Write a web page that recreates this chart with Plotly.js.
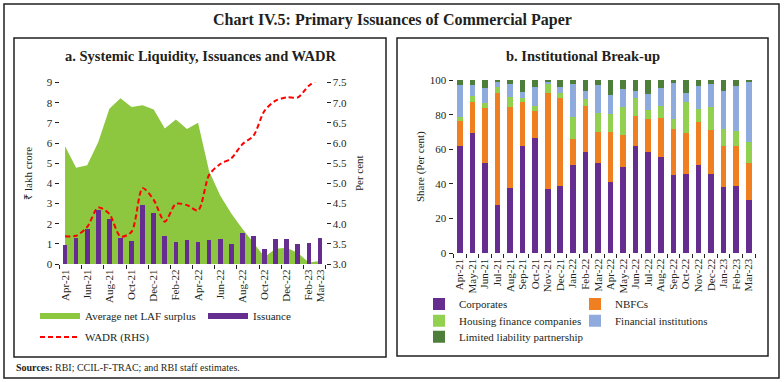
<!DOCTYPE html>
<html><head><meta charset="utf-8">
<script src="https://cdn.plot.ly/plotly-3.0.1.min.js"></script>
<style>html,body{margin:0;padding:0;background:#fff;}#chart{width:784px;height:382px;}</style>
</head><body><div id="chart"></div>
<script>
// ---- Data ----
const months = ["Apr-21","May-21","Jun-21","Jul-21","Aug-21","Sep-21","Oct-21","Nov-21","Dec-21","Jan-22","Feb-22","Mar-22",
                "Apr-22","May-22","Jun-22","Jul-22","Aug-22","Sep-22","Oct-22","Nov-22","Dec-22","Jan-23","Feb-23","Mar-23"];
const panelATickLabels = ["Apr-21","Jun-21","Aug-21","Oct-21","Dec-21","Feb-22","Apr-22","Jun-22","Aug-22","Oct-22","Dec-22","Feb-23","Mar-23"];
// Panel a (₹ lakh crore, WADR per cent)
const lafSurplus = [5.84,4.77,4.90,6.05,7.70,8.22,7.79,7.87,7.66,6.72,7.17,6.69,7.00,4.60,3.40,2.50,1.75,1.05,0.35,0.75,0.80,0.55,0.08,0.15];
const issuance   = [0.94,1.28,1.73,2.67,2.24,1.27,1.14,2.92,2.52,1.40,1.10,1.19,1.10,1.19,1.24,0.99,1.53,1.40,0.74,1.24,1.24,0.99,1.04,1.29];
const wadr       = [3.69,3.70,3.92,4.40,4.24,3.68,3.80,4.88,4.59,4.05,4.49,4.46,4.33,5.21,5.48,5.62,5.97,6.18,6.80,7.05,7.13,7.13,7.42,7.60];
// Panel b (share, per cent)
const corporates = [61.9,69.2,51.9,27.9,37.9,61.9,66.7,36.9,39.0,50.8,58.7,52.3,41.3,49.6,61.9,58.7,55.8,45.2,45.8,51.0,45.8,38.1,38.8,30.8];
const nbfcs      = [14.4,18.3,32.1,64.8,46.7,25.6,15.6,55.8,50.8,15.2,26.5,17.9,28.9,18.7,17.3,18.8,22.5,26.5,23.4,24.6,25.4,24.0,23.1,21.5];
const hfcs       = [2.5,3.3,2.9,3.5,5.4,1.9,2.7,5.0,2.9,12.5,3.6,11.0,10.0,16.3,10.2,5.2,6.9,5.6,18.3,7.5,13.0,9.4,8.7,12.1];
const finInst    = [18.3,6.1,8.5,2.5,7.7,3.9,10.8,1.1,3.1,19.0,5.0,15.9,11.1,10.0,4.4,9.0,10.4,20.8,5.2,13.4,13.5,22.2,25.9,34.6];
const llp        = [2.9,3.1,4.6,1.3,2.3,6.7,4.2,1.2,4.2,2.5,6.2,2.9,8.7,5.4,6.2,8.3,4.4,1.9,7.3,3.5,2.3,6.3,3.5,1.0];

// ---- Helpers ----
const W = 784, H = 382;
const px = v => v / W;
const py = v => 1 - v / H;
const idx = months.map((_, i) => i);
const aTickVals = panelATickLabels.map(m => months.indexOf(m));
const ink = '#231f20';
const FONT = 'Liberation Serif, Times New Roman, serif';

const C = {green:'#8dc63f', purple:'#662d91', red:'#ff0000', orange:'#f07f22', hfc:'#92d050', fi:'#8faadc', llp:'#4e7f3a'};

const traces = [
  {type:'scatter', x:idx, y:lafSurplus, mode:'none', fill:'tozeroy', fillcolor:C.green,
   name:'Average net LAF surplus', xaxis:'x', yaxis:'y', legend:'legend', zorder:0, hoverinfo:'skip'},
  {type:'bar', x:idx, y:issuance, marker:{color:C.purple}, width:0.42, name:'Issuance',
   xaxis:'x', yaxis:'y', showlegend:false, zorder:1},
  {type:'scatter', x:[null], y:[null], mode:'none', fill:'tozeroy', fillcolor:C.purple,
   name:'Issuance', xaxis:'x', yaxis:'y', legend:'legend2'},
  {type:'scatter', x:idx, y:wadr, mode:'lines', name:'WADR (RHS)', xaxis:'x', yaxis:'y2', legend:'legend3',
   line:{color:C.red, width:2, dash:'5px,3px', shape:'spline', smoothing:0.8}},
  {type:'bar', x:idx, y:corporates, name:'Corporates', marker:{color:C.purple}, width:0.45, xaxis:'x2', yaxis:'y3', legend:'legend4'},
  {type:'bar', x:idx, y:nbfcs, name:'NBFCs', marker:{color:C.orange}, width:0.45, xaxis:'x2', yaxis:'y3', legend:'legend5'},
  {type:'bar', x:idx, y:hfcs, name:'Housing finance companies', marker:{color:C.hfc}, width:0.45, xaxis:'x2', yaxis:'y3', legend:'legend6'},
  {type:'bar', x:idx, y:finInst, name:'Financial institutions', marker:{color:C.fi}, width:0.45, xaxis:'x2', yaxis:'y3', legend:'legend7'},
  {type:'bar', x:idx, y:llp, name:'Limited liability partnership', marker:{color:C.llp}, width:0.45, xaxis:'x2', yaxis:'y3', legend:'legend8'}
];

const axisCommon = {showgrid:false, zeroline:false, showline:true, linecolor:ink, linewidth:1,
  tickcolor:ink, tickfont:{size:11, color:ink, family:FONT}, fixedrange:true};

const legendBase = (x, y, iw) => ({x:px(x), y:py(y), xanchor:'left', yanchor:'middle', orientation:'v',
  bgcolor:'rgba(0,0,0,0)', borderwidth:0, itemwidth:iw, font:{size:11, color:ink, family:FONT}, itemclick:false, itemdoubleclick:false});

const layout = {
  width:W, height:H, margin:{l:0, r:0, t:0, b:0},
  paper_bgcolor:'#ffffff', plot_bgcolor:'rgba(0,0,0,0)',
  font:{family:FONT, size:11, color:ink},
  barmode:'stack', showlegend:true, hovermode:false,
  xaxis: Object.assign({}, axisCommon, {domain:[px(59.5), px(325.5)], anchor:'y', range:[-0.5, 23.5],
    tickmode:'array', tickvals:aTickVals, ticktext:panelATickLabels, tickangle:-90, ticks:'',
    minor:{tick0:-0.5, dtick:2, ticks:'outside', ticklen:4, tickcolor:ink}}),
  yaxis: Object.assign({}, axisCommon, {domain:[py(264), py(82.5)], anchor:'x', range:[0, 9], dtick:1,
    ticks:'outside', ticklen:4, title:{text:'₹ lakh crore', standoff:11, font:{size:11, color:ink}}}),
  yaxis2: Object.assign({}, axisCommon, {overlaying:'y', side:'right', anchor:'x', range:[3, 7.5], dtick:0.5,
    tickformat:'.1f', ticks:'outside', ticklen:4, title:{text:'Per cent', standoff:9, font:{size:11, color:ink}}}),
  xaxis2: Object.assign({}, axisCommon, {domain:[px(453.5), px(755)], anchor:'y3', range:[-0.5, 23.5],
    tickmode:'array', tickvals:idx, ticktext:months, tickangle:-90, ticks:'',
    minor:{tick0:-0.5, dtick:1, ticks:'outside', ticklen:4, tickcolor:ink}}),
  yaxis3: Object.assign({}, axisCommon, {domain:[py(253.3), py(80)], anchor:'x2', range:[0, 100], dtick:20,
    ticks:'outside', ticklen:4, title:{text:'Share (Per cent)', standoff:2, font:{size:11, color:ink}}}),
  legend:  legendBase(35, 316, 40),
  legend2: legendBase(203, 316, 40),
  legend3: legendBase(35, 337, 40),
  legend4: legendBase(419, 304, 30),
  legend5: legendBase(575, 304, 30),
  legend6: legendBase(419, 320.7, 30),
  legend7: legendBase(575, 320.7, 30),
  legend8: legendBase(419, 336.7, 30),
  shapes: [
    {type:'rect', xref:'paper', yref:'paper', x0:px(4), x1:px(779), y0:py(378), y1:py(4), line:{color:ink, width:1.5}},
    {type:'rect', xref:'paper', yref:'paper', x0:px(14), x1:px(386), y0:py(357), y1:py(38), line:{color:ink, width:1.5}},
    {type:'rect', xref:'paper', yref:'paper', x0:px(397), x1:px(768), y0:py(356), y1:py(38), line:{color:ink, width:1.5}}
  ],
  annotations: [
    {text:'Chart IV.5: Primary Issuances of Commercial Paper', xref:'paper', yref:'paper', x:0.5, y:py(20),
     xanchor:'center', yanchor:'middle', showarrow:false, font:{size:16, color:ink, family:FONT, weight:'bold'}},
    {text:'a. Systemic Liquidity, Issuances and WADR', xref:'paper', yref:'paper', x:px(200), y:py(56),
     xanchor:'center', yanchor:'middle', showarrow:false, font:{size:14.5, color:ink, family:FONT, weight:'bold'}},
    {text:'b. Institutional Break-up', xref:'paper', yref:'paper', x:px(583), y:py(56),
     xanchor:'center', yanchor:'middle', showarrow:false, font:{size:14.5, color:ink, family:FONT, weight:'bold'}},
    {text:'<b>Sources:</b> RBI; CCIL-F-TRAC; and RBI staff estimates.', xref:'paper', yref:'paper', x:px(14), y:py(367),
     xanchor:'left', yanchor:'middle', showarrow:false, font:{size:10, color:ink, family:FONT}}
  ]
};

Plotly.newPlot('chart', traces, layout, {displayModeBar:false, staticPlot:true});
</script>
</body></html>
